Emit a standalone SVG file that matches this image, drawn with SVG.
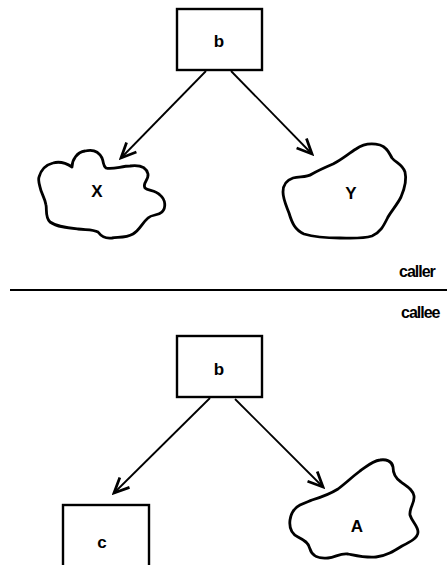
<svg xmlns="http://www.w3.org/2000/svg" width="447" height="565" viewBox="0 0 447 565">
<defs>
<style>
.box{fill:#fff;stroke:#000;stroke-width:2.4}
.cloud{fill:#fff;stroke:#000;stroke-width:2.8;stroke-linejoin:round}
.lbl{font-family:"Liberation Sans",Arial,sans-serif;font-size:17px;font-weight:bold;text-anchor:middle;fill:#000}
.side{font-family:"Liberation Sans",Arial,sans-serif;font-size:16px;font-weight:bold;fill:#000;letter-spacing:-1px}
.edge{stroke:#000;stroke-width:1.8;fill:none}
</style>
<marker id="arr" markerUnits="userSpaceOnUse" markerWidth="20" markerHeight="20" viewBox="-14 -8 16 16" refX="0" refY="0" orient="auto">
<path d="M -12 -5.5 L 0 0 L -12 5.5" fill="none" stroke="#000" stroke-width="2.2"/>
</marker>
</defs>
<rect width="447" height="565" fill="#fff"/>

<g id="caller-b">
<rect class="box" x="177" y="9" width="85" height="61"/>
<text class="lbl" x="219" y="47">b</text>
</g>

<g id="caller-X">
<path class="cloud" d="M39,177 C41,170 45,165 53,163 C60,161 66,163 72,167 C72,160 77,152 85,151 C93,149 99,152 102,158 C104,163 103,166 106,168 C112,170 122,166 130,166 C138,165 146,166 148,174 C149,180 142,183 145,188 C148,191 155,190 160,195 C166,200 166,208 162,212 C158,216 152,214 148,218 C142,223 140,230 133,234 C126,238 118,237 112,238 C105,239 101,236 98,232 C93,229 86,230 78,229 C68,228 57,227 50,222 C45,217 47,210 46,205 C45,198 41,193 40,187 C39,183 38,180 39,177 Z"/>
<text class="lbl" x="97" y="197">X</text>
</g>

<g id="caller-Y">
<path class="cloud" d="M283,192 C283,185 287,180 293,178 C300,176 306,178 312,174 C319,170 326,167 333,164 C341,160 348,154 356,149 C363,144 372,143 380,145 C387,147 389,153 392,158 C396,163 402,164 405,172 C407,180 404,190 401,197 C397,205 392,210 388,217 C384,225 381,232 372,236 C362,239 350,238 340,238 C328,238 314,237 304,234 C295,230 292,223 289,213 C286,205 283,199 283,192 Z"/>
<text class="lbl" x="351" y="199">Y</text>
</g>

<line x1="10" y1="290" x2="447" y2="290" stroke="#000" stroke-width="2.2"/>
<text class="side" x="399" y="277">caller</text>
<text class="side" x="401" y="318">callee</text>

<g id="callee-b">
<rect class="box" x="177" y="336" width="85" height="61"/>
<text class="lbl" x="219" y="375">b</text>
</g>

<g id="callee-c">
<rect class="box" x="63" y="505" width="86" height="65"/>
<text class="lbl" x="102" y="548">c</text>
</g>

<g id="callee-A">
<path class="cloud" d="M300,505 C294,508 291,513 290,520 C289,528 292,534 298,537 C304,540 309,543 310,549 C312,556 319,559 328,558 C336,557 340,553 348,554 C358,556 366,558 376,557 C386,556 394,551 402,546 C410,542 418,538 418,532 C418,526 412,522 410,515 C409,508 415,503 414,496 C413,489 406,486 401,482 C395,478 393,473 393,467 C392,461 386,459 380,460 C372,461 366,467 360,471 C352,477 346,483 338,489 C330,494 322,497 312,500 C307,502 304,503 300,505 Z"/>
<text class="lbl" x="357" y="532">A</text>
</g>

<g id="connectors">
<line class="edge" x1="206" y1="71" x2="121" y2="158" marker-end="url(#arr)"/>
<line class="edge" x1="231" y1="71" x2="312" y2="154" marker-end="url(#arr)"/>
<line class="edge" x1="210" y1="398" x2="114" y2="493" marker-end="url(#arr)"/>
<line class="edge" x1="235" y1="399" x2="323" y2="487" marker-end="url(#arr)"/>
</g>
</svg>
